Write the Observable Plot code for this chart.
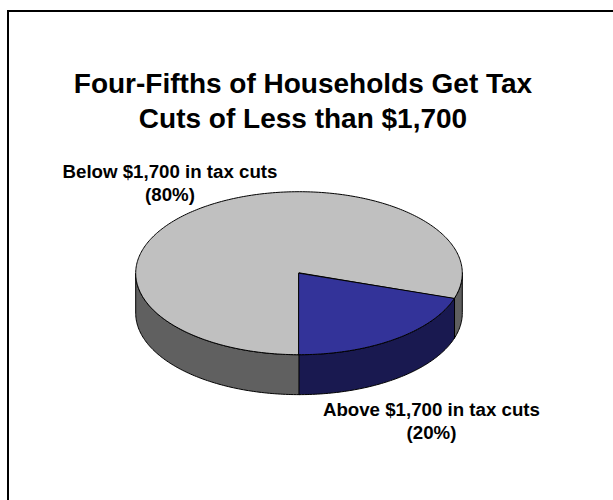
<!DOCTYPE html>
<html>
<head>
<meta charset="utf-8">
<script src="https://cdn.jsdelivr.net/npm/d3@7"></script>
<script src="https://cdn.jsdelivr.net/npm/@observablehq/plot@0.6"></script>
<style>
  html, body { margin: 0; padding: 0; background: #fff; }
  #chart { position: relative; width: 613px; height: 500px; overflow: hidden; }
  #chart svg { position: absolute; left: 0; top: 0; }
  #frame {
    position: absolute; left: 7px; top: 10px; right: -4px; bottom: -4px;
    border: 2px solid #000;
  }
  #title {
    position: absolute; left: 0; width: 606px; top: 66px; text-align: center;
    font: bold 28px/35px "Liberation Sans", Arial, sans-serif; color: #000;
  }
</style>
</head>
<body>
<div id="chart"><div id="frame"></div><div id="title">Four-Fifths of Households Get Tax<br>Cuts of Less than $1,700</div></div>
<script>
// Shares of households by size of tax cut, in percent.
const groups = ["Below $1,700 in tax cuts", "Above $1,700 in tax cuts"];
const shares = [80, 20];
const topColors = ["#c0c0c0", "#333399"];
const sideColors = ["#606060", "#191950"];

// The pie is laid out on a unit circle, squashed by the x and y scales.
const depth = 0.49; // rim height, in the y scale's radius units

// Slices run clockwise from the bottom of the pie, the larger one first.
let cumulative = 0;
const slices = groups.map((group, i) => {
  const start = Math.PI + (cumulative / 100) * 2 * Math.PI;
  cumulative += shares[i];
  const end = Math.PI + (cumulative / 100) * 2 * Math.PI;
  return {group, share: shares[i], start, end, top: topColors[i], side: sideColors[i]};
});

const rimPoint = (a, drop = 0) => ({x: Math.sin(a), y: Math.cos(a) - drop});

function arcAngles(a0, a1) {
  const n = Math.max(2, Math.ceil(Math.abs(a1 - a0) * 60));
  return d3.range(n + 1).map((k) => a0 + ((a1 - a0) * k) / n);
}

// Top faces: centre, then the arc.
const topFaces = slices.flatMap((s, i) => [
  {x: 0, y: 0, slice: i},
  ...arcAngles(s.start, s.end).map((a) => ({...rimPoint(a), slice: i}))
]);

// Side walls: only the part of each arc on the near half of the pie shows.
const nearHalf = [Math.PI / 2, (3 * Math.PI) / 2];
const sideWalls = [];
slices.forEach((s, i) => {
  const turns = [[s.start, s.end], [s.start - 2 * Math.PI, s.end - 2 * Math.PI]];
  turns.forEach(([a0, a1], t) => {
    const lo = Math.max(a0, nearHalf[0]);
    const hi = Math.min(a1, nearHalf[1]);
    if (hi <= lo) return;
    const key = `${i}-${t}`;
    const angles = arcAngles(lo, hi);
    sideWalls.push(
      ...angles.map((a) => ({...rimPoint(a), wall: key, color: s.side})),
      ...angles.slice().reverse().map((a) => ({...rimPoint(a, depth), wall: key, color: s.side}))
    );
  });
});

const labels = [
  {text: `${groups[0]}\n(${shares[0]}%)`, x: -0.79, y: 1.366},
  {text: `${groups[1]}\n(${shares[1]}%)`, x: 0.811, y: -1.552}
];

const plot = Plot.plot({
  width: 613,
  height: 500,
  margin: 0,
  axis: null,
  x: {type: "linear", domain: [-1, 1], range: [135.2, 461.8]},
  y: {type: "linear", domain: [-1, 1], range: [354.2, 191.2]},
  marks: [
    Plot.line(sideWalls, {
      x: "x", y: "y", z: "wall", fill: "color", stroke: "#000", strokeWidth: 1,
      curve: "linear-closed"
    }),
    Plot.line(topFaces, {
      x: "x", y: "y", z: "slice", fill: (d) => slices[d.slice].top, stroke: "#000", strokeWidth: 1,
      curve: "linear-closed"
    }),
    Plot.text(labels, {
      x: "x", y: "y", text: "text", fill: "#000", lineHeight: 1.22, lineAnchor: "top",
      fontFamily: "Liberation Sans, Arial, sans-serif", fontWeight: "bold", fontSize: 18.7
    })
  ]
});
plot.style.background = "transparent";
document.getElementById("chart").append(plot);
</script>
</body>
</html>
